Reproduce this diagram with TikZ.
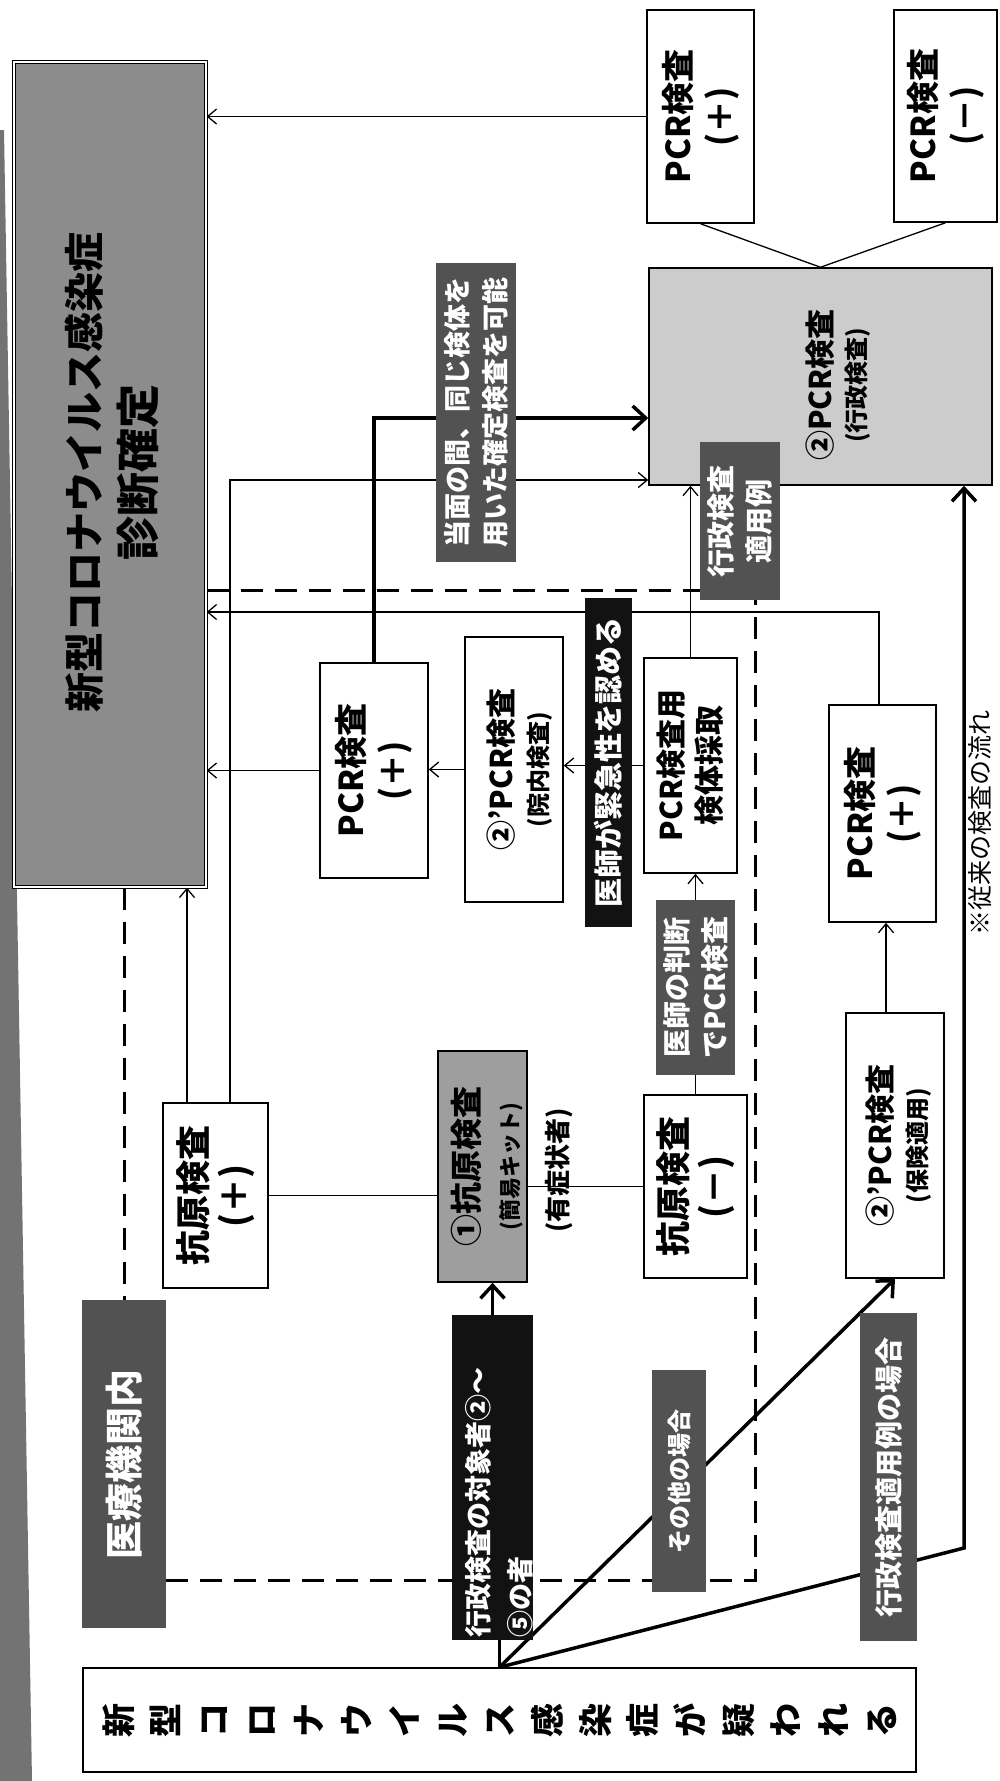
\documentclass[tikz,border=0pt]{standalone}
\usepackage{fontspec}
\setmainfont{Noto Sans CJK JP}
\usetikzlibrary{arrows.meta}
\pgfdeclarelayer{back}
\pgfdeclarelayer{bg}
\pgfsetlayers{back,bg,main}
\newcommand{\fsz}[2]{\fontsize{#1}{#2}\selectfont}
\begin{document}
\begin{tikzpicture}[x=1pt,y=-1pt,
  box/.style={draw=black,line width=1.5pt,fill=white,inner sep=0pt,rectangle},
  gbox/.style={box,fill=black!20},
  mbox/.style={box,fill=black!38},
  lbl/.style={fill=black!68,inner sep=0pt,rectangle},
  blk/.style={fill=black!93,inner sep=0pt,rectangle},
  vt/.style={rotate=90,align=center,inner sep=0pt,text=black},
  wt/.style={vt,text=white},
  ln/.style={line width=1.3pt},
  arr/.style={ln,-{Straight Barb[length=9pt,width=15pt]}},
  tk/.style={line width=3.5pt},
  tkarr/.style={tk,-{Straight Barb[length=13pt,width=24pt]}},
  dsh/.style={line width=3pt,dash pattern=on 22pt off 12pt}]

\begin{pgfonlayer}{back}
\path[use as bounding box,fill=white] (0,0) rectangle (999,1781);
\fill[black!55] (0,130) -- (4,130) -- (32,1781) -- (0,1781) -- cycle;
\end{pgfonlayer}

% boxes
\node[box,fill=black!45,double=white,double distance=2pt,line width=1.2pt,minimum width=192pt,minimum height=825pt] (main) at (110,474.5) {};
\node[box,minimum width=107pt,minimum height=213pt] (pcrTopP) at (700.5,116.5) {};
\node[box,minimum width=103pt,minimum height=212pt] (pcrTopN) at (945.5,116) {};
\node[gbox,minimum width=343pt,minimum height=217pt] (pcr2) at (820.5,376.5) {};
\node[lbl,minimum width=80pt,minimum height=299pt] (lblTomen) at (476,412.5) {};
\node[lbl,minimum width=80pt,minimum height=158pt] (lblGyosei) at (740,521) {};
\node[box,minimum width=108pt,minimum height=215pt] (pcrMid) at (374,770.5) {};
\node[box,minimum width=98pt,minimum height=265pt] (pcr2in) at (514,769.5) {};
\node[blk,minimum width=47pt,minimum height=329pt] (lblIshi) at (608.5,762.5) {};
\node[box,minimum width=93pt,minimum height=215pt] (kentai) at (690.5,765.5) {};
\node[box,minimum width=107pt,minimum height=217pt] (pcrLow) at (882.5,813.5) {};
\node[lbl,minimum width=79pt,minimum height=175pt] (lblHandan) at (695.5,987.5) {};
\node[box,minimum width=105pt,minimum height=185pt] (koP) at (215.5,1195.5) {};
\node[mbox,minimum width=89pt,minimum height=231pt] (ko1) at (482.5,1166.5) {};
\node[box,minimum width=103pt,minimum height=183pt] (koN) at (695.5,1186.5) {};
\node[box,minimum width=98pt,minimum height=265pt] (pcr2ho) at (895,1145.5) {};
\node[lbl,minimum width=84pt,minimum height=328pt] (lblIryo) at (124,1464) {};
\node[blk,minimum width=81pt,minimum height=325pt] (lblTaisho) at (492.5,1477.5) {};
\node[lbl,minimum width=54pt,minimum height=222pt] (lblSonota) at (679,1481) {};
\node[lbl,minimum width=57pt,minimum height=328pt] (lblGyoseiBa) at (888.5,1477) {};
\node[box,minimum width=833pt,minimum height=104pt] (start) at (499.5,1720) {};
\coordinate (bend) at (964,1548);

% texts
\node[vt,font=\fsz{40}{55}\bfseries] (tMain) at (112,472) {新型コロナウイルス感染症\\{\fsz{44}{55}\bfseries 診断確定}};
\node[vt,font=\fsz{33}{42}\bfseries] (tTopP) at (pcrTopP) {PCR検査\\(＋)};
\node[vt,font=\fsz{33}{42}\bfseries] (tTopN) at (pcrTopN) {PCR検査\\(－)};
\node[vt,font=\fsz{30}{34}\bfseries] (t2) at (838,385) {②PCR検査\\{\fsz{24}{34}\bfseries(行政検査)}};
\node[wt,font=\fsz{27}{38}\bfseries] (tTomen) at (lblTomen) {当面の間、同じ検体を\\用いた確定検査を可能};
\node[wt,font=\fsz{28}{38}\bfseries] (tGyosei) at (lblGyosei) {行政検査\\適用例};
\node[vt,font=\fsz{33}{42}\bfseries] (tMid) at (pcrMid) {PCR検査\\(＋)};
\node[vt,font=\fsz{30}{35}\bfseries] (t2in) at (520,769.5) {②'PCR検査\\{\fsz{24}{35}\bfseries(院内検査)}};
\node[wt,font=\fsz{29}{32}\bfseries] (tIshi) at (lblIshi) {医師が緊急性を認める};
\node[vt,font=\fsz{30}{38}\bfseries] (tKentai) at (kentai) {PCR検査用\\検体採取};
\node[vt,font=\fsz{33}{42}\bfseries] (tLow) at (pcrLow) {PCR検査\\(＋)};
\node[wt,font=\fsz{28}{38}\bfseries] (tHandan) at (lblHandan) {医師の判断\\でPCR検査};
\node[vt,font=\fsz{35}{41}\bfseries] (tKoP) at (koP) {抗原検査\\(＋)};
\node[vt,font=\fsz{32}{40}\bfseries] (tKo1) at (487,1166.5) {①抗原検査\\{\fsz{22}{40}\bfseries(簡易キット)}};
\node[vt,font=\fsz{35}{41}\bfseries] (tKoN) at (koN) {抗原検査\\(－)};
\node[vt,font=\fsz{30}{35}\bfseries] (t2ho) at (899,1145.5) {②'PCR検査\\{\fsz{24}{35}\bfseries(保険適用)}};
\node[wt,font=\fsz{38}{40}\bfseries] (tIryo) at (lblIryo) {医療機関内};
\node[wt,align=left,font=\fsz{27}{42}\bfseries] (tTaisho) at (499,1502) {行政検査の対象者②～\\⑤の者};
\node[wt,font=\fsz{24}{26}\bfseries] (tSonota) at (lblSonota) {その他の場合};
\node[wt,font=\fsz{28}{30}\bfseries] (tGyoseiBa) at (lblGyoseiBa) {行政検査適用例の場合};
\node[vt,font=\fsz{34}{47.7}\bfseries] (tStart) at (start) {新\\型\\コ\\ロ\\ナ\\ウ\\イ\\ル\\ス\\感\\染\\症\\が\\疑\\わ\\れ\\る};
\node[vt,font=\fsz{26}{28}\bfseries] (tYusho) at (559,1170) {(有症状者)};
\node[vt,font=\fsz{25}{27}] (tNote) at (980,823) {※従来の検査の流れ};

% connectors
\begin{pgfonlayer}{bg}
\draw[arr] (pcrTopP.west) -- (pcrTopP.west -| main.east);
\draw[ln] (pcrTopP.south) -- (pcr2.north);
\draw[ln] (pcrTopN.south) -- (pcr2.north);
\draw[tkarr] (pcrMid.north) |- ([yshift=-41.5pt]pcr2.west);
\draw[arr] ([xshift=14.5pt]koP.north) |- ([yshift=-103.5pt]pcr2.west);
\draw[arr] ([xshift=-28.5pt]koP.north) -- ([xshift=-28.5pt]koP.north |- main.south);
\draw[ln] (koP.east) -- (koP.east -| ko1.west);
\draw[ln] (koN.west) -- (koN.west -| ko1.east);
\draw[ln] (koN.north) -- (lblHandan.south);
\draw[arr] (lblHandan.north) -- (lblHandan.north |- kentai.south);
\draw[arr] (kentai.north) -- (kentai.north |- pcr2.south);
\draw[arr] (kentai.west) -- (kentai.west -| pcr2in.east);
\draw[arr] (pcr2in.west) -- (pcr2in.west -| pcrMid.east);
\draw[arr] (pcrMid.west) -- (pcrMid.west -| main.east);
\draw[arr] ([xshift=-3.5pt]pcrLow.north) |- ([yshift=-137.5pt]main.east);
\draw[arr] ([xshift=-9pt]pcr2ho.north) -- ([xshift=-9pt]pcr2ho.north |- pcrLow.south);
\draw[tkarr] (start.north) -- (pcr2ho.south);
\draw[tkarr] (start.north) -- (bend) -- (bend |- pcr2.south);
\draw[tk] (start.north) -- (start.north |- lblTaisho.south);
\draw[tkarr] (lblTaisho.north) -- (lblTaisho.north |- ko1.south);
\draw[dsh] ([xshift=14pt]main.south) -- ([xshift=14pt]main.south |- lblIryo.north);
\draw[dsh] ([yshift=-116pt]lblIryo.east) -| ([xshift=15pt]lblGyosei.south);
\draw[dsh] ([yshift=-115.5pt]main.east) -- ([yshift=-115.5pt]main.east -| lblGyosei.west);
\end{pgfonlayer}
\end{tikzpicture}
\end{document}
